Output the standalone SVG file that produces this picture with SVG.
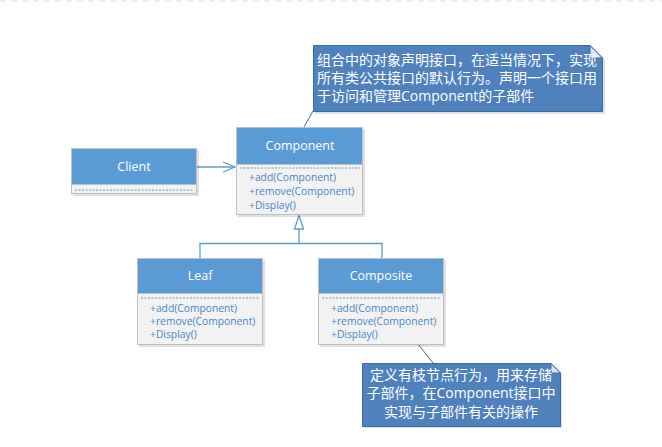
<svg xmlns="http://www.w3.org/2000/svg" width="662" height="447" viewBox="0 0 662 447">
<defs>
<style>
.hdr{fill:#5B9BD5;stroke:#BFBFBF;stroke-width:1}
.body{fill:#F2F2F2;stroke:#BFBFBF;stroke-width:1}
.sep{stroke:#5B9BD5;stroke-width:1;stroke-dasharray:2 1.5}
.title{font-family:"Open Sans","Noto Sans",sans-serif;font-size:12.5px;fill:#FFFFFF;text-anchor:middle}
.mem{font-family:"Open Sans","Noto Sans",sans-serif;font-size:10.3px;fill:#4A86C8}
.note{fill:#4F81BD;stroke:#3B6B9F;stroke-width:1}
.fold{fill:#DCE6F2;stroke:#3B6B9F;stroke-width:1}
.ntxt{font-family:"Open Sans","Noto Sans CJK SC",sans-serif;font-size:14px;fill:#FFFFFF}
.conn{stroke:#5B9BD5;stroke-width:1.3;fill:none}
.tail{stroke:#3B6B9F;stroke-width:1;fill:none}
.shadow{fill:#000;opacity:0.12}
</style>
<marker id="open" markerWidth="14" markerHeight="12" refX="13" refY="6" orient="auto" markerUnits="userSpaceOnUse">
<path d="M1,1 L13,6 L1,11" fill="none" stroke="#5B9BD5" stroke-width="1.3"/>
</marker>
</defs>
<rect width="662" height="447" fill="#FFFFFF"/>
<line x1="0" y1="1" x2="662" y2="1" stroke="#DADADA" stroke-width="1" stroke-dasharray="6 5"/>

<g id="connectors">
<line class="conn" x1="197" y1="167" x2="235" y2="167" marker-end="url(#open)"/>
<path class="conn" d="M200,258 L200,243.5 L382,243.5 L382,258 M299,243.5 L299,229"/>
<path d="M299,215.5 L303.5,229 L294.5,229 Z" fill="#FFFFFF" stroke="#5B9BD5" stroke-width="1.3"/>
<line class="tail" x1="313" y1="111" x2="304" y2="127"/>
<line class="tail" x1="418" y1="344" x2="433" y2="363"/>
</g>

<g id="client">
<rect class="shadow" x="73" y="150" width="126" height="46"/>
<rect class="body" x="71.5" y="148.5" width="125" height="45"/>
<rect class="hdr" x="71.5" y="148.5" width="125" height="36"/>
<line class="sep" x1="75" y1="190" x2="193" y2="190"/>
<text class="title" x="134" y="171">Client</text>
</g>

<g id="component">
<rect class="shadow" x="238" y="129" width="127" height="88"/>
<rect class="body" x="236.5" y="127.5" width="126" height="87"/>
<rect class="hdr" x="236.5" y="127.5" width="126" height="37"/>
<line class="sep" x1="240" y1="168" x2="360" y2="168"/>
<text class="title" x="300" y="150">Component</text>
<text class="mem" x="249" y="181">+add(Component)</text>
<text class="mem" x="249" y="195">+remove(Component)</text>
<text class="mem" x="249" y="209">+Display()</text>
</g>

<g id="leaf">
<rect class="shadow" x="139" y="260" width="126" height="87"/>
<rect class="body" x="137.5" y="258.5" width="125" height="86"/>
<rect class="hdr" x="137.5" y="258.5" width="125" height="35"/>
<line class="sep" x1="141" y1="298" x2="260" y2="298"/>
<text class="title" x="200" y="280">Leaf</text>
<text class="mem" x="150" y="312">+add(Component)</text>
<text class="mem" x="150" y="325">+remove(Component)</text>
<text class="mem" x="150" y="338">+Display()</text>
</g>

<g id="composite">
<rect class="shadow" x="320" y="260" width="126" height="87"/>
<rect class="body" x="318.5" y="258.5" width="125" height="86"/>
<rect class="hdr" x="318.5" y="258.5" width="125" height="35"/>
<line class="sep" x1="322" y1="298" x2="441" y2="298"/>
<text class="title" x="381" y="280">Composite</text>
<text class="mem" x="331" y="312">+add(Component)</text>
<text class="mem" x="331" y="325">+remove(Component)</text>
<text class="mem" x="331" y="338">+Display()</text>
</g>

<g id="note1">
<path class="shadow" d="M315,47 L592,47 L605,60 L605,114 L315,114 Z"/>
<path class="note" d="M313.5,45.5 L590,45.5 L602.5,58 L602.5,111.5 L313.5,111.5 Z"/>
<path class="fold" d="M590,45.5 L590,58 L602.5,58 Z"/>
<text class="ntxt" x="317" y="65">组合中的对象声明接口，在适当情况下，实现</text>
<text class="ntxt" x="317" y="83">所有类公共接口的默认行为。声明一个接口用</text>
<text class="ntxt" x="317" y="101">于访问和管理Component的子部件</text>
</g>

<g id="note2">
<path class="shadow" d="M364,365 L553,365 L562,374 L562,428 L364,428 Z"/>
<path class="note" d="M362.5,363.5 L551,363.5 L560.5,373 L560.5,426.5 L362.5,426.5 Z"/>
<path class="fold" d="M551,363.5 L551,373 L560.5,373 Z"/>
<text class="ntxt" x="461" y="380" text-anchor="middle">定义有枝节点行为，用来存储</text>
<text class="ntxt" x="461" y="398" text-anchor="middle">子部件，在Component接口中</text>
<text class="ntxt" x="461" y="417" text-anchor="middle">实现与子部件有关的操作</text>
</g>
</svg>
